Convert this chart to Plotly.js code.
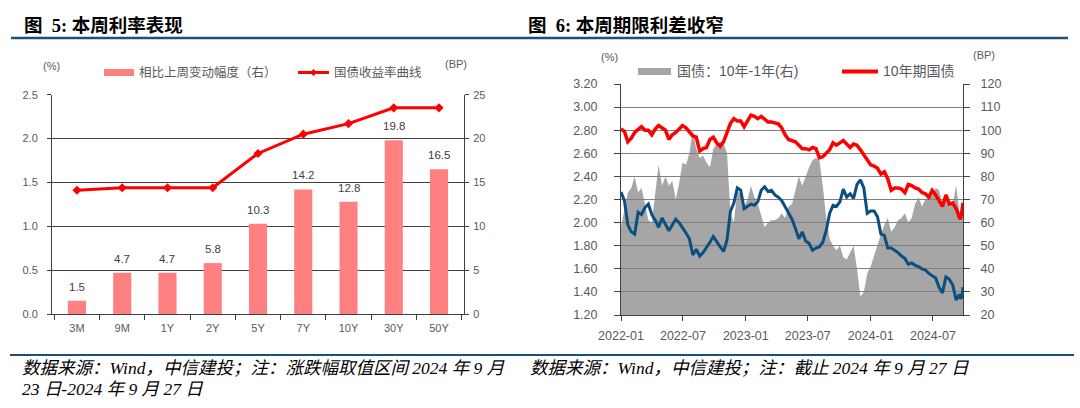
<!DOCTYPE html>
<html><head><meta charset="utf-8">
<script src="https://cdn.plot.ly/plotly-3.0.1.min.js"></script>
<style>html,body{margin:0;padding:0;background:#fff}#chart{width:1080px;height:408px}</style>
</head><body><div id="chart"></div>
<script>
// ---------- Figure 5 data ----------
const tenors = ['3M','9M','1Y','2Y','5Y','7Y','10Y','30Y','50Y'];
const weeklyChangeBP = [1.5, 4.7, 4.7, 5.8, 10.3, 14.2, 12.8, 19.8, 16.5];
const yieldCurve = [1.41, 1.44, 1.44, 1.44, 1.83, 2.05, 2.17, 2.35, 2.35];

// ---------- Figure 6 data ----------
const dates = [
'2022-01-01','2022-01-11','2022-01-21','2022-01-31','2022-02-10','2022-02-20','2022-03-02','2022-03-12','2022-03-22','2022-04-01',
'2022-04-11','2022-04-21','2022-05-01','2022-05-11','2022-05-21','2022-05-31','2022-06-10','2022-06-20','2022-06-30','2022-07-10',
'2022-07-20','2022-07-30','2022-08-09','2022-08-19','2022-08-29','2022-09-08','2022-09-18','2022-09-28','2022-10-08','2022-10-18',
'2022-10-28','2022-11-07','2022-11-17','2022-11-27','2022-12-07','2022-12-17','2022-12-27','2023-01-06','2023-01-16','2023-01-26',
'2023-02-05','2023-02-15','2023-02-25','2023-03-07','2023-03-17','2023-03-27','2023-04-06','2023-04-16','2023-04-26','2023-05-06',
'2023-05-16','2023-05-26','2023-06-05','2023-06-15','2023-06-25','2023-07-05','2023-07-15','2023-07-25','2023-08-04','2023-08-14',
'2023-08-24','2023-09-03','2023-09-13','2023-09-23','2023-10-03','2023-10-13','2023-10-23','2023-11-02','2023-11-12','2023-11-22',
'2023-12-02','2023-12-12','2023-12-22','2024-01-01','2024-01-11','2024-01-21','2024-01-31','2024-02-10','2024-02-20','2024-03-01',
'2024-03-11','2024-03-21','2024-03-31','2024-04-10','2024-04-20','2024-04-30','2024-05-10','2024-05-20','2024-05-30','2024-06-09',
'2024-06-19','2024-06-29','2024-07-09','2024-07-19','2024-07-29','2024-08-08','2024-08-18','2024-08-28','2024-09-07','2024-09-17',
'2024-09-20','2024-09-24','2024-09-27'];
const cgb10y = [
2.81,2.79,2.70,2.73,2.78,2.81,2.83,2.80,2.80,2.76,
2.81,2.84,2.82,2.80,2.72,2.76,2.78,2.81,2.84,2.82,
2.78,2.75,2.74,2.62,2.64,2.65,2.72,2.74,2.69,2.66,
2.70,2.78,2.86,2.90,2.88,2.88,2.83,2.88,2.93,2.92,
2.90,2.92,2.89,2.87,2.87,2.86,2.855,2.82,2.76,2.72,
2.71,2.70,2.67,2.64,2.64,2.63,2.65,2.64,2.56,2.57,
2.60,2.63,2.69,2.67,2.69,2.71,2.68,2.65,2.68,2.67,
2.63,2.59,2.55,2.50,2.49,2.47,2.42,2.44,2.38,2.28,
2.30,2.30,2.29,2.26,2.33,2.32,2.30,2.29,2.26,2.25,
2.22,2.28,2.24,2.19,2.14,2.24,2.16,2.17,2.12,2.04,
2.04,2.10,2.17];
const cgb1y = [
2.265,2.19,1.98,1.92,1.90,2.09,2.07,2.13,2.16,2.07,
2.02,1.96,2.04,1.99,1.93,1.98,2.03,2.00,1.96,1.91,
1.86,1.72,1.77,1.71,1.74,1.78,1.83,1.88,1.83,1.79,
1.75,1.85,2.10,2.17,2.30,2.28,2.12,2.14,2.16,2.15,
2.18,2.28,2.31,2.27,2.28,2.24,2.22,2.19,2.14,2.08,
2.03,1.95,1.86,1.92,1.84,1.82,1.76,1.78,1.79,1.83,
1.93,2.08,2.15,2.14,2.18,2.29,2.22,2.25,2.21,2.33,
2.37,2.30,2.08,2.10,2.10,2.05,1.90,1.89,1.78,1.78,
1.76,1.74,1.71,1.69,1.64,1.65,1.63,1.62,1.60,1.59,
1.56,1.54,1.52,1.44,1.39,1.53,1.51,1.46,1.33,1.38,
1.34,1.36,1.44];
const spread10y1y = [
58,66,73,75,80,73,75,68,61,60,
72,85,76,80,76,78,70,77,86,85,
90,100,92,88,89,86,84,92,94,95,
94,90,64,60,74,72,67,70,76,71,
68,63,58,60,61,61,62,64,62,67,
68,74,80,76,80,84,87,88,87,76,
62,53,50,48,50,45,44,47,50,40,
28,30,38,41,46,51,55,59,62,56,
58,61,62,64,60,62,68,71,67,70,
71,72,75,74,68,70,67,68,76,64,
66,70,61];

// ---------- helpers (pixel -> paper) ----------
const W = 1080, H = 408;
const px = x => x / W;
const py = y => 1 - y / H;

const tickCol = '#595959', axCol = '#404040';

const traces = [
  { type:'bar', x:tenors, y:weeklyChangeBP, xaxis:'x', yaxis:'y2', name:'相比上周变动幅度（右）',
    marker:{color:'#FF8080'}, hoverinfo:'skip' },
  { type:'scatter', mode:'lines+markers', x:tenors, y:yieldCurve, xaxis:'x', yaxis:'y', name:'国债收益率曲线',
    line:{color:'#FF0000', width:3}, marker:{symbol:'diamond', size:7, color:'#FF0000'} },
  { type:'scatter', mode:'lines', x:dates, y:spread10y1y, xaxis:'x2', yaxis:'y4', name:'国债：10年-1年(右)',
    fill:'tozeroy', fillcolor:'rgba(128,128,128,0.7)', line:{width:0, color:'rgba(0,0,0,0)'} },
  { type:'scatter', mode:'lines', x:dates, y:cgb10y, xaxis:'x2', yaxis:'y3', name:'10年期国债',
    line:{color:'#FF0000', width:3.5} },
  { type:'scatter', mode:'lines', x:dates, y:cgb1y, xaxis:'x2', yaxis:'y3', name:'1年期国债',
    line:{color:'#0B4F80', width:3} }
];

const leftTop = 94.7, leftBot = 314, rightTop = 84, rightBot = 315;

const shapes = [
  {type:'line', xref:'paper', yref:'paper', x0:px(11), x1:px(1068), y0:py(38), y1:py(38), line:{color:'#1F4E79', width:2.5}},
  {type:'line', xref:'paper', yref:'paper', x0:px(10), x1:px(1074), y0:py(355), y1:py(355), line:{color:'#1F4E79', width:2}},
  // legend keys
  {type:'rect', xref:'paper', yref:'paper', x0:px(104), x1:px(134), y0:py(69), y1:py(76), fillcolor:'#FF8080', line:{width:0}},
  {type:'line', xref:'paper', yref:'paper', x0:px(298), x1:px(329), y0:py(72.5), y1:py(72.5), line:{color:'#FF0000', width:3}},
  {type:'path', xref:'paper', yref:'paper',
   path:`M ${px(313.5)} ${py(69)} L ${px(317)} ${py(72.5)} L ${px(313.5)} ${py(76)} L ${px(310)} ${py(72.5)} Z`,
   fillcolor:'#FF0000', line:{width:0}},
  {type:'rect', xref:'paper', yref:'paper', x0:px(638), x1:px(671), y0:py(68), y1:py(75), fillcolor:'#A6A6A6', line:{width:0}},
  {type:'line', xref:'paper', yref:'paper', x0:px(842), x1:px(878), y0:py(71.5), y1:py(71.5), line:{color:'#FF0000', width:4}}
];

const titleFont = {family:'Liberation Serif, "Noto Sans CJK SC", serif', size:18.5, color:'#000'};
const noteFont = {family:'Liberation Serif, "Noto Sans CJK SC", serif', size:17.5, color:'#000'};
const legFontL = {family:'Liberation Sans, "Noto Sans CJK SC", sans-serif', size:12.5, color:tickCol};
const legFontR = {family:'Liberation Sans, "Noto Sans CJK SC", sans-serif', size:14, color:tickCol};
const unitFont = {family:'Liberation Sans, "Noto Sans CJK SC", sans-serif', size:11, color:tickCol};

function ann(text, x, y, font, xanchor){
  return {text, x:px(x), y:py(y), xref:'paper', yref:'paper', xanchor:xanchor||'left', yanchor:'middle',
          showarrow:false, font, align:'left'};
}

const annotations = [
  ann('<b>图\u00a0\u00a05: 本周利率表现</b>', 22, 25, titleFont),
  ann('<b>图\u00a0\u00a06: 本周期限利差收窄</b>', 526, 25, titleFont),
  ann('(%)', 41, 66, unitFont),
  ann('(BP)', 443, 64, unitFont),
  ann('相比上周变动幅度（右）', 137, 72, legFontL),
  ann('国债收益率曲线', 332, 72, legFontL),
  ann('(%)', 599, 57, unitFont),
  ann('(BP)', 971, 55, unitFont),
  ann('国债：10年-1年(右)', 675, 71, legFontR),
  ann('10年期国债', 881, 71, legFontR),
  ann('<i>数据来源：Wind，中信建投；注：涨跌幅取值区间 2024 年 9 月</i>', 20, 368, noteFont),
  ann('<i>23 日-2024 年 9 月 27 日</i>', 20, 389, noteFont),
  ann('<i>数据来源：Wind，中信建投；注：截止 2024 年 9 月 27 日</i>', 528, 368, noteFont)
];

// bar value labels, placed through the bar axes
tenors.forEach((t, i) => {
  annotations.push({text: weeklyChangeBP[i].toFixed(1), x: t, y: weeklyChangeBP[i], xref:'x', yref:'y2',
    xanchor:'center', yanchor:'bottom', yshift:6, showarrow:false,
    font:{family:'Liberation Sans, Arial, sans-serif', size:11.5, color:'#404040'}});
});

const layout = {
  width:W, height:H, margin:{l:0,r:0,t:0,b:0}, paper_bgcolor:'#fff', plot_bgcolor:'rgba(0,0,0,0)',
  showlegend:false, bargap:0.6,
  font:{family:'Liberation Sans, Arial, sans-serif', color:tickCol, size:11},
  xaxis:{domain:[px(52), px(464)], anchor:'y2', type:'category', showline:true, linecolor:axCol, linewidth:1,
         ticks:'outside', tickson:'boundaries', ticklen:5, tickcolor:axCol, showgrid:false,
         tickfont:{size:11, color:tickCol}, ticklabelstandoff:4, fixedrange:true},
  yaxis2:{domain:[py(leftBot), py(leftTop)], anchor:'x', side:'right', range:[0,25], dtick:5, tick0:0,
          showline:true, linecolor:axCol, ticks:'outside', ticklen:4, tickcolor:axCol, showgrid:false, zeroline:false,
          tickfont:{size:11, color:tickCol}, ticklabelstandoff:2},
  yaxis:{overlaying:'y2', anchor:'x', side:'left', range:[0,2.5], dtick:0.5, tick0:0, tickformat:'.1f',
         showline:true, linecolor:axCol, ticks:'outside', ticklen:4, tickcolor:axCol,
         showgrid:true, gridcolor:'#404040', gridwidth:1, zeroline:false,
         tickfont:{size:11, color:tickCol}, ticklabelstandoff:7},
  xaxis2:{domain:[px(621), px(963)], anchor:'y4', type:'date', range:['2022-01-01','2024-09-27'],
          tick0:'2022-01-01', dtick:'M6', tickformat:'%Y-%m', showline:true, linecolor:axCol,
          ticks:'outside', ticklen:5, tickcolor:axCol, showgrid:false, zeroline:false,
          tickfont:{size:12.5, color:tickCol}, ticklabelstandoff:4},
  yaxis4:{domain:[py(rightBot), py(rightTop)], anchor:'x2', side:'right', range:[20,120], dtick:10, tick0:20,
          showline:true, linecolor:axCol, ticks:'outside', ticklen:6, tickcolor:axCol, showgrid:false, zeroline:false,
          tickfont:{size:12.5, color:tickCol}, ticklabelstandoff:8},
  yaxis3:{overlaying:'y4', anchor:'x2', side:'left', range:[1.2,3.2], dtick:0.2, tick0:1.2, tickformat:'.2f',
          showline:true, linecolor:axCol, ticks:'outside', ticklen:6, tickcolor:axCol,
          showgrid:true, gridcolor:'#808080', gridwidth:1, zeroline:false,
          tickfont:{size:12.5, color:tickCol}, ticklabelstandoff:14},
  shapes, annotations
};

Plotly.newPlot('chart', traces, layout, {staticPlot:true, displayModeBar:false});
</script></body></html>
